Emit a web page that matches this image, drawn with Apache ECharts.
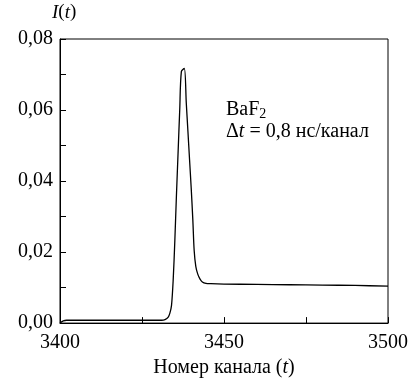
<!DOCTYPE html>
<html>
<head>
<meta charset="utf-8">
<script src="https://cdn.jsdelivr.net/npm/echarts@6/dist/echarts.min.js"></script>
<style>html,body{margin:0;padding:0;background:#fff}#c{width:411px;height:383px}</style>
</head>
<body>
<div id="c"></div>
<script>
var channels = [3400, 3401, 3402, 3410, 3420, 3431, 3432, 3433, 3433.5, 3434, 3434.5, 3435, 3435.5, 3436, 3436.5, 3437, 3437.9, 3438.5, 3439, 3439.5, 3440, 3440.5, 3440.9, 3441.4, 3442, 3442.7, 3443.4, 3444.5, 3446, 3450, 3460, 3470, 3480, 3490, 3500];
var intensity = [0.0000, 0.0006, 0.0008, 0.0008, 0.0008, 0.0008, 0.0010, 0.0017, 0.0028, 0.0050, 0.0120, 0.0230, 0.0360, 0.0480, 0.0600, 0.0708, 0.0717, 0.0620, 0.0540, 0.0460, 0.0380, 0.0290, 0.0205, 0.0160, 0.0138, 0.0124, 0.0116, 0.0112, 0.0111, 0.0110, 0.0109, 0.0108, 0.0107, 0.0106, 0.0104];
var xTickLabels = ['3400', '3450', '3500'];
var yTickLabels = ['0,00', '0,02', '0,04', '0,06', '0,08'];

var FONT = 'Liberation Serif';
var chart = echarts.init(document.getElementById('c'), null, {renderer: 'canvas'});
var pts = channels.map(function (c, i) { return [c, intensity[i]]; });

chart.setOption({
  animation: false,
  backgroundColor: '#fff',
  grid: {left: 60, right: 23, top: 39, bottom: 57, show: true, borderColor: '#000', borderWidth: 1},
  xAxis: {
    type: 'value', min: 3400, max: 3500, interval: 25,
    axisLine: {show: true, lineStyle: {color: '#000', width: 1}},
    axisTick: {show: true, inside: true, length: 6, lineStyle: {color: '#000'}},
    splitLine: {show: false},
    axisLabel: {
      color: '#000', fontFamily: FONT, fontSize: 20, margin: 10,
      formatter: function (v) { var s = String(v); return xTickLabels.indexOf(s) >= 0 ? s : ''; }
    },
    name: 'Номер канала ({i|t})',
    nameLocation: 'middle', nameGap: 30,
    nameTextStyle: {color: '#000', fontFamily: FONT, fontSize: 20,
      rich: {i: {fontFamily: FONT, fontSize: 20, fontStyle: 'italic', color: '#000'}}}
  },
  yAxis: {
    type: 'value', min: 0, max: 0.08, interval: 0.01,
    axisLine: {show: true, lineStyle: {color: '#000', width: 1}},
    axisTick: {show: true, inside: true, length: 6, lineStyle: {color: '#000'}},
    splitLine: {show: false},
    axisLabel: {
      color: '#000', fontFamily: FONT, fontSize: 20, margin: 7,
      formatter: function (v) {
        var k = Math.round(v * 100);
        return (k % 2 === 0) ? yTickLabels[k / 2] : '';
      }
    }
  },
  series: [{
    type: 'line', data: pts, symbol: 'none', smooth: 0.3,
    lineStyle: {color: '#000', width: 1.3}
  }],
  graphic: [
    {type: 'text', left: 52, top: 3, style: {
      text: '{i|I}({i|t})', fontFamily: FONT, fontSize: 19, fill: '#000',
      rich: {i: {fontFamily: FONT, fontSize: 19, fontStyle: 'italic', fill: '#000'}}}},
    {type: 'text', left: 226, top: 100, style: {
      text: 'BaF{s|2}', fontFamily: FONT, fontSize: 20, fill: '#000',
      rich: {s: {fontFamily: FONT, fontSize: 14, fill: '#000', verticalAlign: 'bottom', padding: [9, 0, 0, 0]}}}},
    {type: 'text', left: 226, top: 122, style: {
      text: 'Δ{i|t} = 0,8 нс/канал', fontFamily: FONT, fontSize: 20, fill: '#000',
      rich: {i: {fontFamily: FONT, fontSize: 20, fontStyle: 'italic', fill: '#000'}}}}
  ]
});
</script>
</body>
</html>
